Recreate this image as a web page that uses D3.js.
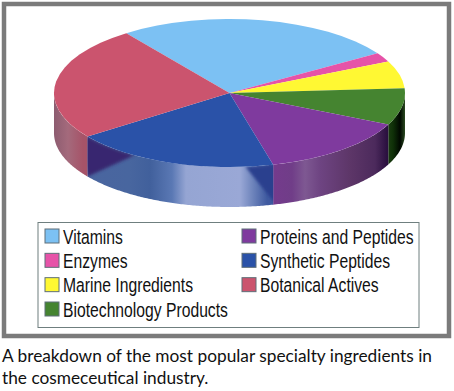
<!DOCTYPE html>
<html>
<head>
<meta charset="utf-8">
<script src="https://cdnjs.cloudflare.com/ajax/libs/d3/7.8.5/d3.min.js"></script>
<style>
  html, body { margin: 0; background: #fff; }
  svg { display: block; }
  .legend-label { font-family: "Liberation Sans", sans-serif; font-size: 19.5px; fill: #111; }
  .caption { font-family: Lato, sans-serif; font-size: 17.3px; fill: #111; }
</style>
</head>
<body>
<svg id="chart" width="454" height="391"></svg>
<script>
// values (percent)
const categories = ['Vitamins', 'Enzymes', 'Marine Ingredients', 'Biotechnology Products',
  'Proteins and Peptides', 'Synthetic Peptides', 'Botanical Actives'];
const values = [26, 2, 6, 8, 14, 19, 25];
const captionLines = ['A breakdown of the most popular specialty ingredients in',
  'the cosmeceutical industry.'];

const colors = ['#7cc1f3', '#e653a8', '#fff833', '#458430', '#7f3a9e', '#2a52a8', '#cb546e'];

// shading of the visible rim, [pixel x, colour]
const rimStops = {
  'Marine Ingredients': [[400, '#0a2a05'], [405, '#2a4a20']],
  'Biotechnology Products': [[387, '#1c3f12'], [393, '#0f3008'], [400, '#000800'], [405, '#2a4a20']],
  'Proteins and Peptides': [[267, '#763a8e'], [292, '#703d88'], [305, '#7e5892'], [320, '#6e4482'],
    [350, '#5d3668'], [375, '#4c2a5c'], [387, '#2b1040']],
  'Synthetic Peptides': [[83, '#4a659f'], [130, '#48669f'], [150, '#41609c'], [172, '#5a78b4'], [186, '#95a5d3'],
    [240, '#9aa8d6'], [252, '#7086bd'], [267, '#3f5aa0']],
  'Botanical Actives': [[54, '#8d5c70'], [68, '#a46a7c'], [83, '#a65368']]
};

const svg = d3.select('#chart');
const toRad = Math.PI / 180;

// ellipse of the top face, unit circle to pixels
const x = d3.scaleLinear().domain([-1, 1]).range([54, 405]);
const y = d3.scaleLinear().domain([-1, 1]).range([19, 167]);
const depth = 40;

const rimX = a => x(Math.sin(a));
const rimY = a => y(-Math.cos(a));

// frame
svg.append('rect')
  .attr('x', 4).attr('y', 4).attr('width', 445).attr('height', 332)
  .attr('fill', '#fff').attr('stroke', '#7b7b7b').attr('stroke-width', 4.5);

const pie = d3.pie().sort(null)
  .startAngle(-36 * toRad)
  .endAngle(324 * toRad);
const slices = pie(values);

const defs = svg.append('defs');
defs.append('filter').attr('id', 'soft')
  .append('feGaussianBlur').attr('stdDeviation', 1.8);

// rim, only the front half of the disc shows
const rimArea = d3.area()
  .x(a => rimX(a))
  .y0(a => rimY(a))
  .y1(a => rimY(a) + depth);

const front = slices.map((d, i) => {
  const start = Math.max(d.startAngle, Math.PI / 2);
  const end = Math.min(d.endAngle, 3 * Math.PI / 2);
  return {name: categories[i], i, start, end, d};
}).filter(s => s.end > s.start && rimStops[s.name]);

front.forEach(s => {
  const stops = rimStops[s.name];
  const grad = defs.append('linearGradient')
    .attr('id', 'rim' + s.i)
    .attr('gradientUnits', 'userSpaceOnUse')
    .attr('x1', stops[0][0]).attr('x2', stops[stops.length - 1][0])
    .attr('y1', 0).attr('y2', 0);
  const off = d3.scaleLinear().domain([stops[0][0], stops[stops.length - 1][0]]).range([0, 1]);
  stops.forEach(p => grad.append('stop').attr('offset', off(p[0])).attr('stop-color', p[1]));
  s.angles = d3.range(s.start, s.end, 0.01).concat([s.end]);
  defs.append('clipPath').attr('id', 'clip' + s.i)
    .append('path').attr('d', rimArea(s.angles));
});

svg.append('g').selectAll('path')
  .data(front)
  .join('path')
    .attr('d', s => rimArea(s.angles))
    .attr('fill', s => `url(#rim${s.i})`);

// dark reflections on the Synthetic Peptides rim
const synth = front.find(s => s.name === 'Synthetic Peptides');
const span = synth.end - synth.start;
const rimShade = svg.append('g').attr('clip-path', `url(#clip${synth.i})`);

const leftTop = d3.range(synth.end + 0.1, synth.end - span * 0.31, -0.01);
rimShade.append('path')
  .attr('d', d3.line()(leftTop.map(a => [rimX(a), rimY(a)])
    .concat([[rimX(synth.end), rimY(synth.end) + depth]])) + 'Z')
  .attr('fill', '#37286f')
  .attr('filter', 'url(#soft)');

const rightTop = d3.range(synth.start - 0.1, synth.start + span * 0.14, 0.01);
rimShade.append('path')
  .attr('d', d3.line()(rightTop.map(a => [rimX(a), rimY(a)])
    .concat([[rimX(synth.start) + 3, rimY(synth.start) + depth]])) + 'Z')
  .attr('fill', '#2a3f8e')
  .attr('filter', 'url(#soft)');

// top face
const arc = d3.arc().innerRadius(0).outerRadius(1);
svg.append('g')
  .attr('transform', `translate(${x(0)},${y(0)}) scale(${x(1) - x(0)},${y(1) - y(0)})`)
  .selectAll('path')
  .data(slices)
  .join('path')
    .attr('d', arc)
    .attr('fill', (d, i) => colors[i]);

// legend
svg.append('rect')
  .attr('x', 38).attr('y', 222.5).attr('width', 381).attr('height', 105)
  .attr('fill', '#fff').attr('stroke', '#6f7f7f').attr('stroke-width', 1);

const col = d3.scaleOrdinal().domain([0, 1]).range([45, 242]);
const row = d3.scaleLinear().domain([0, 3]).range([229, 302]);

const items = svg.append('g').selectAll('g')
  .data(categories)
  .join('g')
    .attr('transform', (d, i) => `translate(${col(i < 4 ? 0 : 1)},${row(i < 4 ? i : i - 4)})`);

items.append('rect')
  .attr('width', 14).attr('height', 14)
  .attr('fill', (d, i) => colors[i])
  .attr('stroke', '#5f6f78').attr('stroke-width', 1);

// no narrow face installed, so squeeze the regular one
items.append('text')
  .attr('class', 'legend-label')
  .attr('transform', 'translate(18,14.5) scale(0.806,1)')
  .text(d => d);

// caption
svg.append('g').selectAll('text')
  .data(captionLines)
  .join('text')
    .attr('class', 'caption')
    .attr('x', 2)
    .attr('y', (d, i) => 362 + i * 21.5)
    .text(d => d);
</script>
</body>
</html>
